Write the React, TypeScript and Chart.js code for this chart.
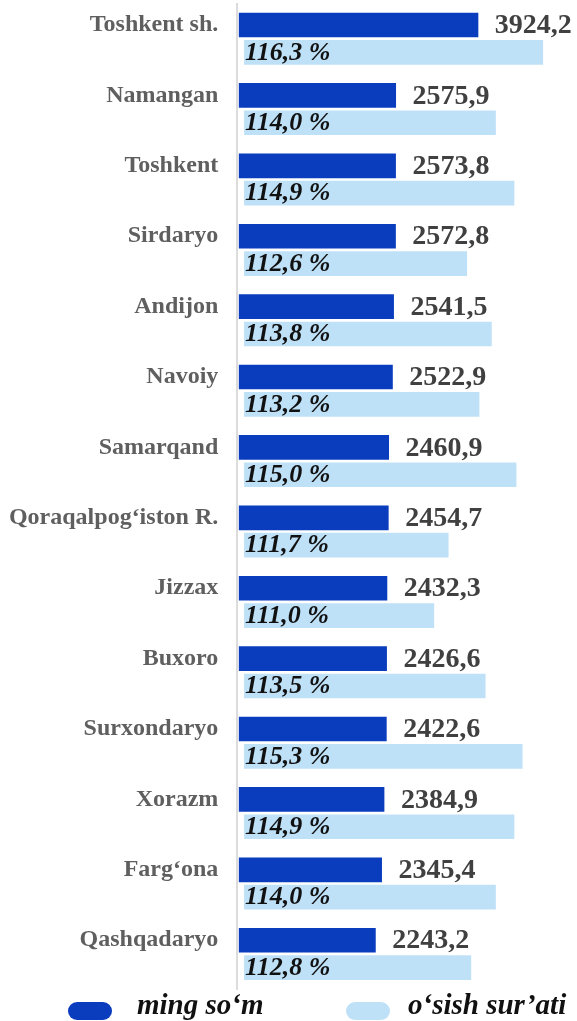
import React, { useEffect, useRef } from "react";
import { Chart, registerables } from "chart.js";

Chart.register(...registerables);

const regions: string[] = [
  "Toshkent sh.",
  "Namangan",
  "Toshkent",
  "Sirdaryo",
  "Andijon",
  "Navoiy",
  "Samarqand",
  "Qoraqalpog‘iston R.",
  "Jizzax",
  "Buxoro",
  "Surxondaryo",
  "Xorazm",
  "Farg‘ona",
  "Qashqadaryo",
];

const wages: number[] = [
  3924.2, 2575.9, 2573.8, 2572.8, 2541.5, 2522.9, 2460.9, 2454.7, 2432.3,
  2426.6, 2422.6, 2384.9, 2345.4, 2243.2,
];

const growth: number[] = [
  116.3, 114.0, 114.9, 112.6, 113.8, 113.2, 115.0, 111.7, 111.0, 113.5, 115.3,
  114.9, 114.0, 112.8,
];

const seriesNames: string[] = ["ming so‘m", "o‘sish sur’ati"];

const DARK = "#0a3cbe";
const LIGHT = "#bfe1f8";
const SERIF = "'Liberation Serif', 'Times New Roman', serif";

const fmt = (v: number) => v.toFixed(1).replace(".", ",");

const valueLabels = {
  id: "valueLabels",
  afterDatasetsDraw(chart: any) {
    const ctx = chart.ctx;
    ctx.save();
    const m0 = chart.getDatasetMeta(0);
    ctx.font = `bold 28px ${SERIF}`;
    ctx.fillStyle = "#404040";
    ctx.textAlign = "left";
    ctx.textBaseline = "middle";
    m0.data.forEach((bar: any, i: number) => {
      ctx.fillText(fmt(wages[i]), bar.x + 16.5, bar.y + 1);
    });
    const m1 = chart.getDatasetMeta(1);
    ctx.font = `italic bold 26px ${SERIF}`;
    ctx.fillStyle = "#111111";
    m1.data.forEach((bar: any, i: number) => {
      ctx.fillText(fmt(growth[i]) + " %", bar.base + 1, bar.y + 0.5);
    });
    ctx.restore();
  },
};

export default function App() {
  const ref = useRef<HTMLCanvasElement | null>(null);

  useEffect(() => {
    if (!ref.current) return;
    const chart = new Chart(ref.current, {
      type: "bar",
      data: {
        labels: regions,
        datasets: [
          {
            label: seriesNames[0],
            data: wages,
            backgroundColor: DARK,
            xAxisID: "x",
            categoryPercentage: 0.777,
            barPercentage: 0.903,
          },
          {
            label: seriesNames[1],
            data: growth,
            backgroundColor: LIGHT,
            xAxisID: "x2",
            base: 101.75,
            categoryPercentage: 0.777,
            barPercentage: 0.903,
          } as any,
        ],
      },
      options: {
        indexAxis: "y",
        animation: false,
        responsive: true,
        maintainAspectRatio: false,
        events: [],
        layout: { padding: { top: 3.5, bottom: 5.9, left: 0, right: 8.6 } },
        plugins: {
          legend: { display: false },
          tooltip: { enabled: false },
          title: { display: false },
        },
        scales: {
          x: {
            display: false,
            min: -25,
            max: 5400,
          },
          x2: {
            display: false,
            min: 101.42,
            max: 117.53,
          },
          y: {
            position: "left",
            afterFit: (scale: any) => {
              scale.width = 237.3;
              scale.paddingTop = 0;
              scale.paddingBottom = 0;
            },
            grid: { display: false, drawTicks: false },
            border: { display: true, color: "#dcdcdc", width: 2 },
            ticks: {
              padding: 19,
              labelOffset: -13.7,
              color: "#5f5f5f",
              font: { family: SERIF, size: 24, weight: "bold" },
            },
          },
        },
      },
      plugins: [valueLabels],
    });
    return () => chart.destroy();
  }, []);

  const pill = (color: string) => (
    <div
      style={{
        width: 44,
        height: 18,
        borderRadius: 9,
        background: color,
      }}
    />
  );

  return (
    <div
      style={{
        position: "absolute",
        top: 0,
        left: 0,
        width: 577,
        height: 1021,
        background: "#ffffff",
        overflow: "hidden",
      }}
    >
      <div style={{ position: "absolute", top: 0, left: 0, width: 577, height: 995 }}>
        <canvas ref={ref} />
      </div>
      <div
        style={{
          position: "absolute",
          top: 996,
          left: 0,
          width: 577,
          height: 30,
          fontFamily: SERIF,
          fontStyle: "italic",
          fontWeight: "bold",
          fontSize: 29,
          color: "#111111",
          lineHeight: "30px",
        }}
      >
        <div style={{ position: "absolute", left: 68, top: 6 }}>{pill(DARK)}</div>
        <div style={{ position: "absolute", left: 137, top: -7, whiteSpace: "nowrap" }}>
          {seriesNames[0]}
        </div>
        <div style={{ position: "absolute", left: 346, top: 6 }}>{pill(LIGHT)}</div>
        <div style={{ position: "absolute", left: 408, top: -7, whiteSpace: "nowrap" }}>
          {seriesNames[1]}
        </div>
      </div>
    </div>
  );
}
